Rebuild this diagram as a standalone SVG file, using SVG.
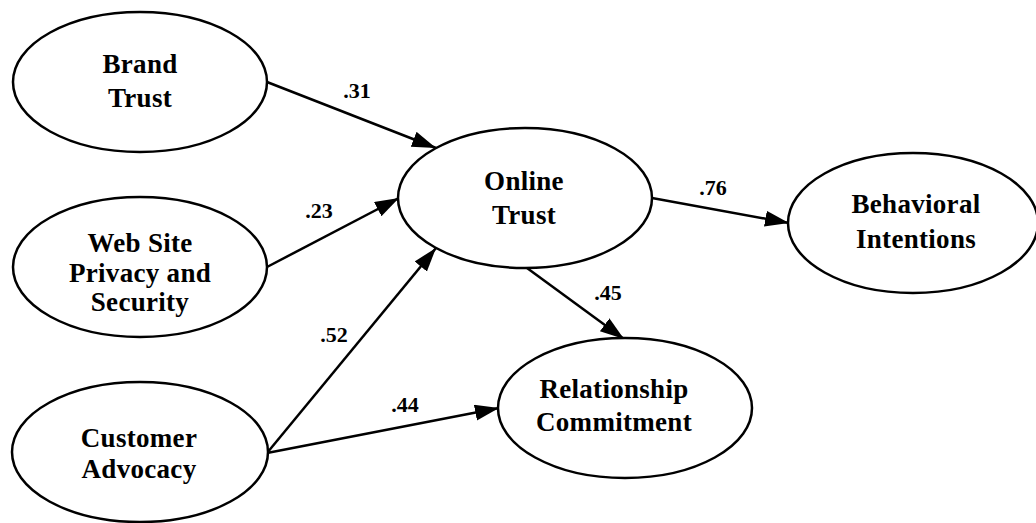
<svg xmlns="http://www.w3.org/2000/svg" width="1036" height="523" viewBox="0 0 1036 523">
  <defs>
    <marker id="arrow" markerUnits="userSpaceOnUse" markerWidth="26" markerHeight="18" refX="24" refY="8" orient="auto">
      <path d="M0,0 L24,8 L0,16 Z" fill="#000"/>
    </marker>
    <style>
      .node ellipse { fill: #fff; stroke: #000; stroke-width: 2.5; }
      .node text { font-family: "Liberation Serif", "Times New Roman", serif; font-weight: bold; font-size: 27px; text-anchor: middle; fill: #000; letter-spacing: 0.3px; }
      .edge line { stroke: #000; stroke-width: 2.5; marker-end: url(#arrow); }
      .weight { font-family: "Liberation Serif", "Times New Roman", serif; font-weight: bold; font-size: 22px; text-anchor: middle; fill: #000; }
    </style>
  </defs>
  <rect width="1036" height="523" fill="#fff"/>

  <g id="connectors" class="edge">
    <line x1="267" y1="82" x2="436" y2="148"/>
    <line x1="267" y1="267" x2="399" y2="198"/>
    <line x1="267" y1="453" x2="436" y2="248"/>
    <line x1="267" y1="453" x2="499" y2="408"/>
    <line x1="527" y1="268" x2="624" y2="339"/>
    <line x1="652" y1="198" x2="789" y2="223"/>
  </g>

  <g id="weights">
    <text class="weight" x="357" y="98">.31</text>
    <text class="weight" x="319" y="218">.23</text>
    <text class="weight" x="334" y="342">.52</text>
    <text class="weight" x="405" y="412">.44</text>
    <text class="weight" x="608" y="300">.45</text>
    <text class="weight" x="713" y="195">.76</text>
  </g>

  <g id="brand-trust" class="node">
    <ellipse cx="140" cy="82" rx="127" ry="70"/>
    <text x="140" y="73">Brand</text>
    <text x="140" y="107">Trust</text>
  </g>

  <g id="web-site-privacy" class="node">
    <ellipse cx="140" cy="267" rx="127" ry="70"/>
    <text x="140" y="252">Web Site</text>
    <text x="140" y="282">Privacy and</text>
    <text x="140" y="311">Security</text>
  </g>

  <g id="customer-advocacy" class="node">
    <ellipse cx="140" cy="452" rx="128" ry="70"/>
    <text x="139" y="447">Customer</text>
    <text x="139" y="478">Advocacy</text>
  </g>

  <g id="online-trust" class="node">
    <ellipse cx="525" cy="198" rx="127" ry="70"/>
    <text x="524" y="190">Online</text>
    <text x="524" y="224">Trust</text>
  </g>

  <g id="relationship-commitment" class="node">
    <ellipse cx="625" cy="408" rx="127" ry="70"/>
    <text x="614" y="398">Relationship</text>
    <text x="614" y="431">Commitment</text>
  </g>

  <g id="behavioral-intentions" class="node">
    <ellipse cx="913" cy="223" rx="125" ry="70"/>
    <text x="916" y="213">Behavioral</text>
    <text x="916" y="248">Intentions</text>
  </g>
</svg>
